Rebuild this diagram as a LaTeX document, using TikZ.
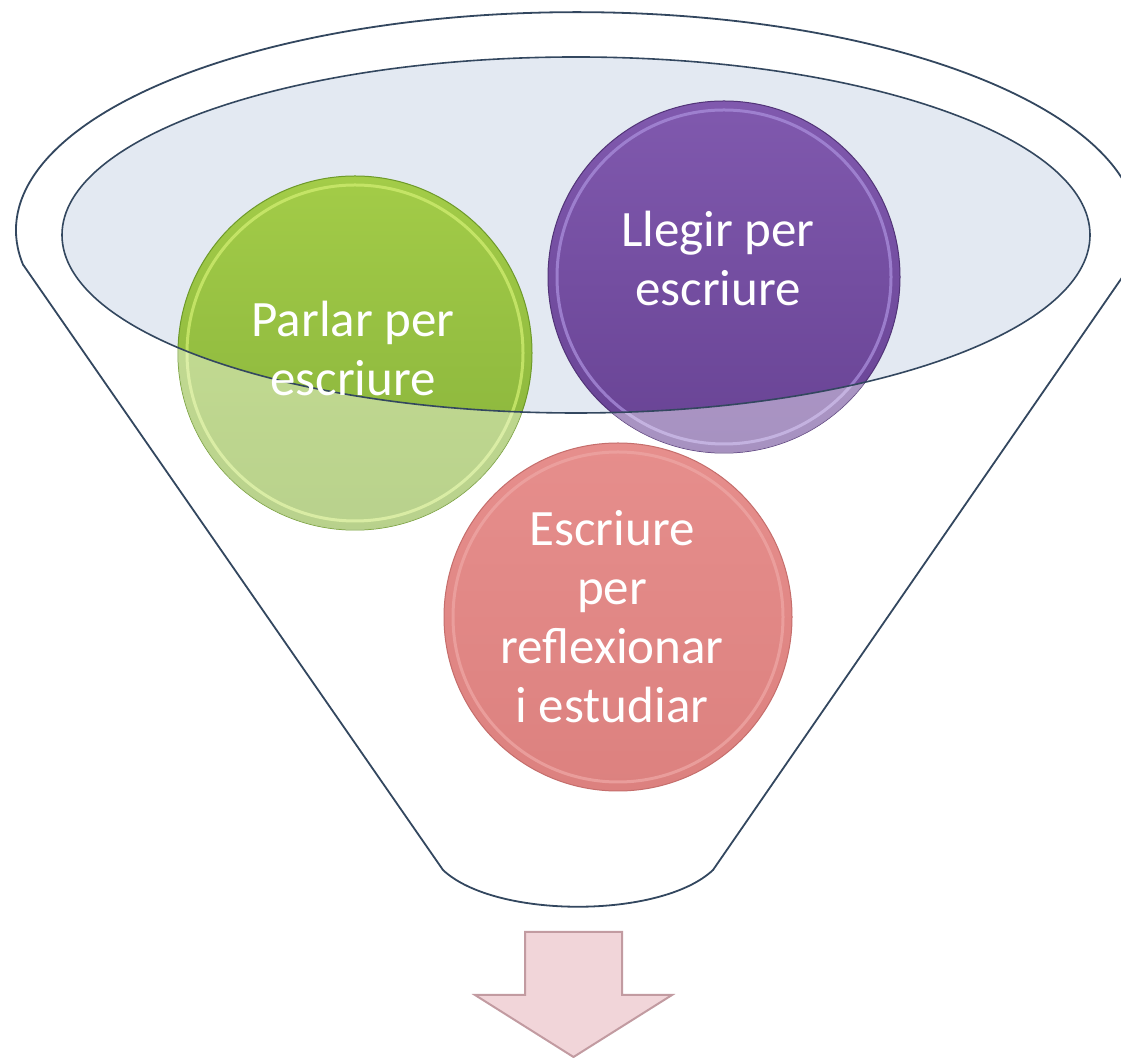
\documentclass[tikz,border=0pt]{standalone}
\usepackage{fontspec}
\setmainfont{Carlito}
\usepackage{tikz}

\definecolor{rimline}{HTML}{33475F}
\definecolor{rimfill}{HTML}{E3E9F2}
\definecolor{greentop}{HTML}{A3CC48}
\definecolor{greenbot}{HTML}{86B13A}
\definecolor{greenedge}{HTML}{6E9A2A}
\definecolor{greenhi}{HTML}{CDEB6E}
\definecolor{purptop}{HTML}{8059AE}
\definecolor{purpbot}{HTML}{684394}
\definecolor{purpedge}{HTML}{523478}
\definecolor{purphi}{HTML}{A68AD8}
\definecolor{pinktop}{HTML}{E68E8C}
\definecolor{pinkbot}{HTML}{DC817F}
\definecolor{pinkedge}{HTML}{C56E6C}
\definecolor{pinkhi}{HTML}{EDA4A2}
\definecolor{arrowfill}{HTML}{F1D5D9}
\definecolor{arrowline}{HTML}{C29BA1}

\begin{document}
\begin{tikzpicture}[
    x=1pt, y=1pt,
    rim/.style={draw=rimline, line width=1.8pt},
    bubble/.style={circle, minimum size=#1, inner sep=0pt, line width=1pt},
    caption/.style={text=white, align=center, font=\fontsize{51}{59}\selectfont}
]
\clip (0,0) rectangle (1121,1057);

% Funnel body and mouth
\draw[rim, fill=white] (23.3,792) -- (443,187)
    .. controls (495,138) and (661,138) .. (713,187)
    -- (1130.7,792)
    arc[start angle=-9.2, end angle=189.2, x radius=561, y radius=218] -- cycle;
\coordinate (mouth) at (576,822);
\fill[rimfill] (mouth) ellipse[x radius=514, y radius=178];

% The three circles
\node[bubble=354pt, draw=greenedge, top color=greentop, bottom color=greenbot] (parlar) at (355,704) {};
\node[bubble=352pt, draw=purpedge, top color=purptop, bottom color=purpbot] (llegir) at (724,780) {};
\node[bubble=348pt, draw=pinkedge, top color=pinktop, bottom color=pinkbot] (escriure) at (618,440) {};

\foreach \c/\h/\r in {parlar/greenhi/168, llegir/purphi/167, escriure/pinkhi/165}
    \draw[\h, line width=3pt, opacity=.8] (\c.center) circle[radius=\r];

% Parts hanging out of the mouth are paler
\foreach \c/\r in {parlar/177, llegir/176} {
    \begin{scope}
        \clip (\c.center) circle[radius=\r];
        \fill[white, fill opacity=.42, even odd rule] (0,0) rectangle (1121,1057)
            (mouth) ellipse[x radius=514, y radius=178];
    \end{scope}
}
\draw[rim, line width=1.6pt] (mouth) ellipse[x radius=514, y radius=178];

% Labels
\node[caption] (parlartext) at (353,709) {Parlar per\\escriure};
\node[caption] (llegirtext) at (718,799) {Llegir per\\escriure};
\node[caption] (escriuretext) at (612,440) {Escriure\\per\\reflexionar\\i estudiar};

% Output arrow
\draw[line width=2pt, draw=arrowline, fill=arrowfill] (525,125) -- (622,125) -- (622,62)
    -- (672,62) -- (573.5,0) -- (475,62) -- (525,62) -- cycle;

\end{tikzpicture}
\end{document}
